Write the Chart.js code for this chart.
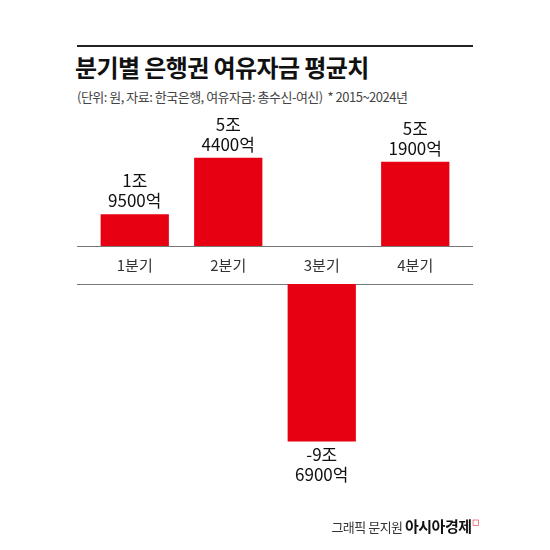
<!DOCTYPE html>
<html>
<head>
<meta charset="utf-8">
<script src="https://cdn.jsdelivr.net/npm/chart.js@4"></script>
<style>
  body { margin: 0; width: 550px; height: 550px; background: #fff; position: relative; overflow: hidden;
         font-family: "Noto Sans CJK KR", "Noto Sans", sans-serif; }
  .abs { position: absolute; }
  .rule { position: absolute; left: 77px; width: 396px; height: 1px; background: #777; }
</style>
</head>
<body>
<div class="rule" style="top:45px;background:#222;height:1.5px"></div>
<div class="abs" style="left:75px;top:49px;font-size:24px;font-weight:700;letter-spacing:-0.6px;color:#111">분기별 은행권 여유자금 평균치</div>
<div class="abs" style="left:77px;top:87px;font-size:13px;letter-spacing:-0.5px;color:#444">(단위: 원, 자료: 한국은행, 여유자금: 총수신-여신) &nbsp;* 2015~2024년</div>
<div class="rule" style="top:246px"></div>
<div class="rule" style="top:284px"></div>
<div class="abs" style="left:88px;top:100px;width:374px;height:185px"><canvas id="top"></canvas></div>
<div class="abs" style="left:88px;top:284px;width:374px;height:245px"><canvas id="bottom"></canvas></div>
<div class="abs" style="right:72px;top:515px;font-size:13px;color:#333;letter-spacing:-0.5px">그래픽 문지원 <b style="font-size:15px;color:#111">아시아경제</b><span style="color:#e60012;font-size:9px;vertical-align:top">◻</span></div>
<script>
// 분기별 여유자금 (단위: 조 원)
const quarters = ['1분기', '2분기', '3분기', '4분기'];
const values = [1.95, 5.44, -9.69, 5.19];
const valueLabels = [['1조', '9500억'], ['5조', '4400억'], ['-9조', '6900억'], ['5조', '1900억']];

const RED = '#e60012';

// 막대 위/아래 값 라벨 + 카테고리 라벨
const labelPlugin = {
    id: 'labels',
    afterDatasetsDraw(chart, args, opts) {
        const ctx = chart.ctx;
        const meta = chart.getDatasetMeta(0);
        ctx.save();
        ctx.textAlign = 'center';
        ctx.fillStyle = '#111';
        ctx.font = '17px "Noto Sans CJK KR"';
        meta.data.forEach(function(bar, i) {
            const v = values[i];
            if (opts.positive ? v <= 0 : v >= 0) return;
            const lines = valueLabels[i];
            if (v > 0) {
                ctx.textBaseline = 'alphabetic';
                ctx.fillText(lines[0], bar.x, bar.y - 27);
                ctx.fillText(lines[1], bar.x, bar.y - 7);
            } else {
                ctx.textBaseline = 'top';
                ctx.fillText(lines[0], bar.x, bar.y + 5);
                ctx.fillText(lines[1], bar.x, bar.y + 25);
            }
        });
        if (opts.categories) {
            ctx.font = '15px "Noto Sans CJK KR"';
            ctx.fillStyle = '#333';
            ctx.textBaseline = 'middle';
            quarters.forEach(function(q, i) {
                ctx.fillText(q, chart.scales.x.getPixelForValue(i), chart.chartArea.bottom + 19);
            });
        }
        ctx.restore();
    }
};

function makeChart(id, data, yMin, yMax, padding, opts) {
    return new Chart(document.getElementById(id), {
        type: 'bar',
        data: {
            labels: quarters,
            datasets: [{
                data: data,
                backgroundColor: RED,
                borderWidth: 0,
                barPercentage: 0.73,
                categoryPercentage: 1
            }]
        },
        options: {
            responsive: true,
            maintainAspectRatio: false,
            animation: false,
            layout: { padding: padding },
            plugins: { legend: { display: false }, tooltip: { enabled: false }, labels: opts },
            scales: {
                x: { display: false },
                y: { display: false, min: yMin, max: yMax }
            }
        },
        plugins: [labelPlugin]
    });
}

makeChart('top', values.map(v => v > 0 ? v : null), 0, 9, { bottom: 39 }, { positive: true, categories: true });
makeChart('bottom', values.map(v => v < 0 ? v : null), -12, 0, { bottom: 50 }, { positive: false });
</script>
</body>
</html>
